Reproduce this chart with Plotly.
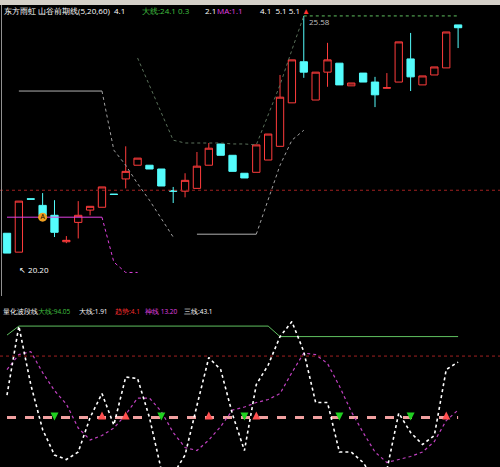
import plotly.graph_objects as go

# ---- price panel data (one bar per trading day) ----
idx = list(range(39))
opens = [20.98, 20.58, 21.71, 21.57, 21.36, 20.80, 21.21, 21.47, 21.53, 21.81,
         22.13, 22.42, 22.42, 22.34, 21.88, 21.87, 21.93, 22.42, 22.87, 22.63,
         22.25, 22.27, 22.53, 22.82, 23.74, 24.61, 23.80, 24.39, 24.58, 24.10,
         24.37, 24.18, 24.05, 24.18, 24.67, 24.12, 24.33, 24.48, 25.39]
highs = [20.98, 21.66, 21.71, 21.83, 21.68, 20.92, 21.66, 21.55, 21.96, 21.81,
         22.82, 22.57, 22.42, 22.34, 21.96, 22.25, 22.70, 22.89, 22.87, 22.63,
         22.25, 22.85, 23.08, 24.33, 24.65, 25.58, 24.39, 25.01, 24.58, 24.16,
         24.37, 24.29, 24.37, 25.03, 25.22, 24.31, 24.50, 25.24, 25.39]
lows = [20.56, 20.58, 21.70, 21.36, 20.90, 20.77, 20.87, 21.36, 21.53, 21.80,
        21.93, 22.42, 22.34, 21.98, 21.62, 21.74, 21.93, 22.42, 22.63, 22.29,
        22.15, 22.27, 22.53, 22.82, 23.74, 24.27, 23.80, 24.08, 24.12, 24.10,
        24.18, 23.65, 24.05, 24.18, 23.99, 24.12, 24.33, 24.48, 24.90]
closes = [20.56, 21.66, 21.70, 21.36, 21.00, 20.83, 21.36, 21.55, 21.96, 21.80,
          22.29, 22.57, 22.34, 21.98, 21.87, 22.10, 22.40, 22.78, 22.63, 22.29,
          22.15, 22.85, 23.08, 23.86, 24.65, 24.39, 24.39, 24.65, 24.12, 24.16,
          24.18, 23.91, 24.06, 25.03, 24.29, 24.31, 24.50, 25.24, 25.33]

# trailing stop lines on the price panel
lower_solid_x = [0, 1, 2, 3, 4, 5, 6, 7, 8]
lower_solid_y = [21.32] * 9
lower_drop_x = [8, 9, 10, 11]
lower_drop_y = [21.32, 20.37, 20.15, 20.15]
stop_solid_x = [1, 2, 3, 4, 5, 6, 7, 8]
stop_solid_y = [23.99] * 8
stop_drop_x = [8, 9, 10, 11, 12, 13, 14]
stop_drop_y = [23.99, 22.74, 22.42, 22.03, 21.68, 21.28, 20.90]
stop2_solid_x = [16, 17, 18, 19, 20, 21]
stop2_solid_y = [20.96] * 6
stop2_rise_x = [21, 22, 23, 24, 25]
stop2_rise_y = [20.96, 21.68, 22.42, 22.95, 23.16]
upper_x = [11, 12, 13, 14, 15, 16, 17, 18, 19, 20, 21, 22, 23, 24, 25]
upper_y = [24.69, 24.12, 23.55, 22.95, 22.89, 22.89, 22.89, 22.89, 22.87,
           22.87, 22.85, 23.48, 24.12, 24.86, 25.58]
top_x = list(range(25, 39))
top_y = [25.58] * 14
mid_level = 21.89

# ---- oscillator panel data ----
white_k = [48, 94, 55, 25, 8, 5, 10, 33, 49, 28, 60, 59, 33, -2, -5, 8, 41, 73,
           65, 35, 11, 55, 68, 87, 97, 77, 43, 43, 10, 10, 3, -9, -2, 36, 23,
           15, 21, 65, 70]
magenta_d = [65, 75, 77, 63, 51, 42, 26, 18, 21, 26, 35, 46, 46, 37, 23, 13, 11,
             18, 27, 38, 40, 43, 45, 49, 63, 76, 75, 69, 54, 37, 23, 10, 3, 5,
             7, 10, 17, 31, 38]
green_x = [0, 1, 22, 23, 38]
green_y = [88, 94, 94, 87, 87]
osc_high = 74
osc_low = 33
buy_x = [8, 10, 17, 21, 37]
sell_x = [4, 13, 20, 28, 34]

fig = go.Figure()

fig.add_trace(go.Candlestick(
    x=idx, open=opens, high=highs, low=lows, close=closes,
    increasing=dict(line=dict(color='#ff3c3c', width=1), fillcolor='#000000'),
    decreasing=dict(line=dict(color='#54fcfc', width=1), fillcolor='#54fcfc'),
    whiskerwidth=0, xaxis='x', yaxis='y', showlegend=False))

fig.add_hline(y=mid_level, line=dict(color='#a02020', width=1, dash='dot'), yref='y')

def line(x, y, color, dash='solid', width=1, xa='x', ya='y'):
    fig.add_trace(go.Scatter(x=x, y=y, mode='lines', xaxis=xa, yaxis=ya,
                             line=dict(color=color, dash=dash, width=width),
                             showlegend=False, hoverinfo='skip'))

line(lower_solid_x, lower_solid_y, '#e040e0')
line(lower_drop_x, lower_drop_y, '#e040e0', 'dot')
line(stop_solid_x, stop_solid_y, '#b0b0b0')
line(stop_drop_x, stop_drop_y, '#a0a0a0', 'dot')
line(stop2_solid_x, stop2_solid_y, '#b0b0b0')
line(stop2_rise_x, stop2_rise_y, '#a0a0a0', 'dot')
line(upper_x, upper_y, '#5a705a', 'dot')
line(top_x, top_y, '#60c060', 'dot')

fig.add_trace(go.Scatter(x=[3], y=[21.32], mode='markers+text', text=['A'],
                         textfont=dict(size=7, color='#000000'),
                         marker=dict(size=9, color='#f0a020'),
                         textposition='middle center', showlegend=False))
fig.add_annotation(x=0.8, y=20.22, text='↖ 20.20', showarrow=False, xanchor='left',
                   font=dict(size=8, color='#ffffff'))
fig.add_annotation(x=25.3, y=25.46, text='25.58', showarrow=False, xanchor='left',
                   font=dict(size=8, color='#c0c0c0'))

# oscillator panel
line(idx, [osc_low] * 39, '#f0a0a0', 'dash', 3, 'x2', 'y2')
fig.add_hline(y=osc_high, line=dict(color='#a02020', width=1, dash='dot'), yref='y2')
line(green_x, green_y, '#60c060', xa='x2', ya='y2')
line(idx, magenta_d, '#c040c0', 'dot', 1.2, 'x2', 'y2')
line(idx, white_k, '#ffffff', 'dot', 1.6, 'x2', 'y2')
fig.add_trace(go.Scatter(x=buy_x, y=[osc_low + 4] * 5, mode='markers', xaxis='x2', yaxis='y2',
                         marker=dict(symbol='arrow-up', size=8, color='#ff5050'),
                         showlegend=False))
fig.add_trace(go.Scatter(x=sell_x, y=[osc_low - 2] * 5, mode='markers', xaxis='x2', yaxis='y2',
                         marker=dict(symbol='arrow-down', size=8, color='#20d020'),
                         showlegend=False))

# header texts
top_parts = [(2, '#ffffff', '东方雨虹 山谷前期线(5,20,60)  4.1'),
             (140, '#40c040', '大线:24.1 0.3'),
             (203, '#ffffff', '2.1'),
             (215, '#e040e0', 'MA:1.1'),
             (258, '#ffffff', '4.1  5.1 5.1'),
             (300, '#ff3030', '▲')]
for px_, col, txt in top_parts:
    fig.add_annotation(x=px_ / 500, y=1 - 10 / 467, xref='paper', yref='paper',
                       text=txt, showarrow=False, xanchor='left', yanchor='middle',
                       font=dict(size=8, color=col))
bot_parts = [(1, '#ffffff', '量化波段线'),
             (36, '#40c040', '大线:94.05'),
             (77, '#ffffff', '大线:1.91'),
             (113, '#ff3030', '趋势:4.1'),
             (143, '#e040e0', '神线 13.20'),
             (182, '#ffffff', '三线:43.1')]
for px_, col, txt in bot_parts:
    fig.add_annotation(x=px_ / 500, y=1 - 311 / 467, xref='paper', yref='paper',
                       text=txt, showarrow=False, xanchor='left', yanchor='middle',
                       font=dict(size=6.5, color=col))

fig.add_shape(type='rect', xref='paper', yref='paper', x0=0, x1=1, y0=1 - 5 / 467, y1=1,
              fillcolor='#d4d0c8', line=dict(width=0))
fig.add_shape(type='line', xref='paper', yref='paper', x0=0.003, x1=0.003,
              y0=1 - 296 / 467, y1=1 - 5 / 467, line=dict(color='#909090', width=1))

xr = [-0.59, 41.53]
fig.update_layout(
    width=500, height=467, margin=dict(l=0, r=0, t=0, b=0),
    paper_bgcolor='#000000', plot_bgcolor='#000000',
    boxgap=0.12,
    xaxis=dict(domain=[0, 1], range=xr, visible=False, rangeslider=dict(visible=False)),
    yaxis=dict(domain=[0.368, 0.974], range=[19.67, 25.66], visible=False),
    xaxis2=dict(domain=[0, 1], range=xr, visible=False, anchor='y2', matches='x'),
    yaxis2=dict(domain=[0, 0.321], range=[0, 100], visible=False, anchor='x2'),
)

fig.write_html("out.html", config={'displayModeBar': False},
               post_script="document.body.style.margin='0';")
